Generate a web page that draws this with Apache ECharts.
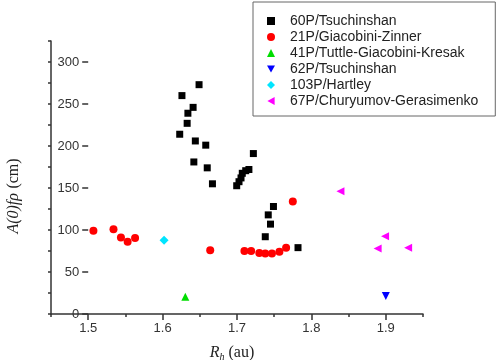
<!DOCTYPE html>
<html>
<head>
<meta charset="utf-8">
<script src="https://cdn.jsdelivr.net/npm/echarts@6/dist/echarts.min.js"></script>
<style>html,body{margin:0;padding:0;background:#fff}#c{width:500px;height:360px}</style>
</head>
<body>
<div id="c"></div>
<script>
const seriesNames = ['60P/Tsuchinshan','21P/Giacobini-Zinner','41P/Tuttle-Giacobini-Kresak','62P/Tsuchinshan','103P/Hartley','67P/Churyumov-Gerasimenko'];
const rh60P = [1.649,1.626,1.641,1.634,1.633,1.623,1.644,1.658,1.642,1.660,1.667,1.6996,1.7027,1.7054,1.7071,1.7117,1.716,1.722,1.749,1.742,1.745,1.738,1.782];
const af60P = [273,260,246,239,227,214,206,201,181,174,155,152.7,157.5,162,167.5,170.6,172,191,128,118,107,92,79];
const rh21P = [1.507,1.534,1.544,1.553,1.563,1.664,1.710,1.719,1.730,1.738,1.747,1.757,1.766,1.775];
const af21P = [99.2,101,91,86,90.5,76,75,75,72.6,72,72,74,79,134];
const rh41P = [1.6305];
const af41P = [20.6];
const rh62P = [1.900];
const af62P = [21.4];
const rh103P = [1.602];
const af103P = [87.7];
const rh67P = [1.839,1.899,1.889,1.930];
const af67P = [146,92.5,78,79];
const xTickLabels = ['1.5','1.6','1.7','1.8','1.9'];
const yTickLabels = ['0','50','100','150','200','250','300'];

const zip = (a,b) => a.map((v,i)=>[v,b[i]]);
const axisColor = '#333';
const tickFont = {color:'#333', fontSize:13, fontFamily:'Liberation Sans, Arial, sans-serif'};

const symbols = ['rect','circle','triangle','triangle','diamond','triangle'];
const rotations = [0,0,0,180,0,90];
const legendIcons = ['rect','circle','triangle','path://M0,0 L10,0 L5,9 Z','diamond','path://M9,0 L9,10 L0,5 Z'];
const colors = ['#000000','#ff0000','#00dd00','#0000ff','#00e5ff','#ff00ff'];

const chart = echarts.init(document.getElementById('c'), null, {renderer:'canvas'});
const mk = (i, data, size) => ({
  name: seriesNames[i], type:'scatter', xAxisIndex:0, yAxisIndex:0, data, symbol:symbols[i], symbolSize:size,
  symbolRotate: rotations[i], itemStyle:{color:colors[i], opacity:1}, emphasis:{disabled:true}, z:3
});
chart.setOption({
  animation:false,
  backgroundColor:'#fff',
  grid:[
    {left:51, right:77, top:41, bottom:46, containLabel:false, outerBoundsMode:'none'},
    {left:88.2, right:114.2, top:62, bottom:46, containLabel:false, outerBoundsMode:'none'}
  ],
  legend:{
    orient:'vertical', left:253, top:2,
    padding:[12,17,8,14],
    borderColor:'#666', borderWidth:1,
    itemWidth:8, itemHeight:8, itemGap:2,
    textStyle:{color:'#222', fontSize:14, fontFamily:'Liberation Sans, Arial, sans-serif', padding:[0,0,0,10], lineHeight:14},
    data: seriesNames.map((n,i)=>({name:n, icon:legendIcons[i], itemStyle:{color:colors[i]}}))
  },
  xAxis:[
    {type:'value', gridIndex:0, min:1.45, max:1.95, interval:0.05,
     axisLine:{show:true, lineStyle:{color:axisColor, width:1.5}},
     axisTick:{show:true, length:3, lineStyle:{color:axisColor, width:1.5}},
     axisLabel:{show:false}, splitLine:{show:false}},
    {type:'value', gridIndex:1, min:1.5, max:1.9, interval:0.1,
     axisLine:{show:false},
     axisTick:{show:true, length:6, lineStyle:{color:axisColor, width:1.5}},
     axisLabel:Object.assign({margin:8, formatter:(v)=>{const i=Math.round((v-1.5)/0.1); return xTickLabels[i]||'';}}, tickFont),
     splitLine:{show:false},
     name:'{i|R}{s|h}{n| (au)}', nameLocation:'middle', nameGap:30,
     nameTextStyle:{fontFamily:'Liberation Serif, Times New Roman, serif', fontSize:16, color:'#222', padding:[0,10,0,0],
       rich:{i:{fontStyle:'italic', fontSize:16, fontFamily:'Liberation Serif, serif', color:'#222'},
             s:{fontStyle:'italic', fontSize:10, fontFamily:'Liberation Serif, serif', color:'#222', padding:[8,0,0,0]},
             n:{fontSize:16, fontFamily:'Liberation Serif, serif', color:'#222'}}}}
  ],
  yAxis:[
    {type:'value', gridIndex:0, min:0, max:325, interval:25,
     axisLine:{show:true, lineStyle:{color:axisColor, width:1.5}},
     axisTick:{show:true, length:3, lineStyle:{color:axisColor, width:1.5}},
     axisLabel:{show:false}, splitLine:{show:false}},
    {type:'value', gridIndex:1, min:0, max:300, interval:50,
     axisLine:{show:false},
     axisTick:{show:true, length:6, lineStyle:{color:axisColor, width:1.5}},
     axisLabel:Object.assign({margin:9, formatter:(v)=>{const i=Math.round(v/50); return yTickLabels[i]||'';}}, tickFont),
     splitLine:{show:false},
     name:'{i|A(0)fρ} {n|(cm)}', nameLocation:'middle', nameGap:66,
     nameTextStyle:{fontSize:16, color:'#222', padding:[0,16,0,0],
       rich:{i:{fontStyle:'italic', fontSize:16, fontFamily:'Liberation Serif, serif', color:'#222'},
             n:{fontSize:16, fontFamily:'Liberation Serif, serif', color:'#222'}}}}
  ],
  series:[
    mk(0, zip(rh60P, af60P), 7),
    mk(1, zip(rh21P, af21P), 8),
    mk(2, zip(rh41P, af41P), 8),
    mk(3, zip(rh62P, af62P), 8),
    mk(4, zip(rh103P, af103P), 9),
    mk(5, zip(rh67P, af67P), 8)
  ]
});
</script>
</body>
</html>
